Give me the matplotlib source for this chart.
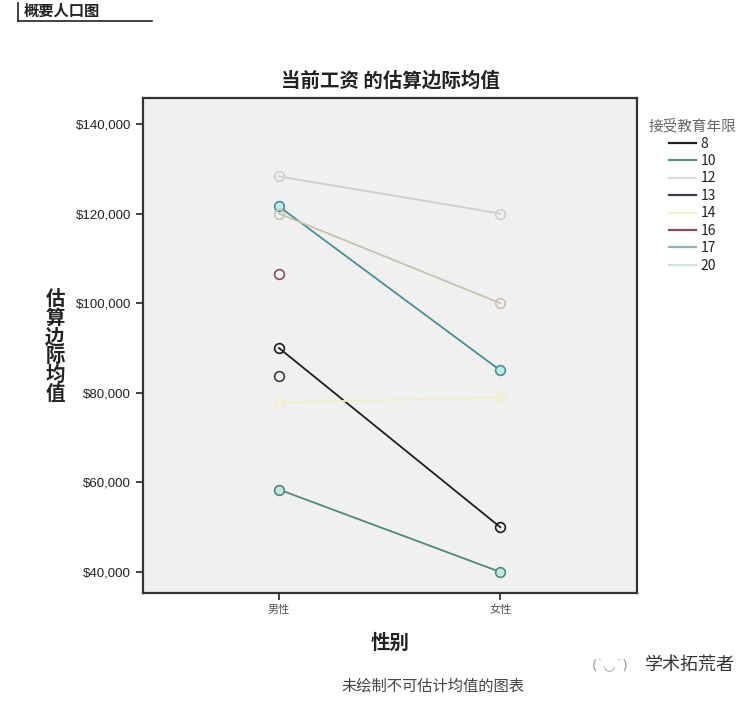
import numpy as np
import matplotlib
matplotlib.use('Agg')
import matplotlib.pyplot as plt
from matplotlib.lines import Line2D
from matplotlib.ticker import FuncFormatter

plt.rcParams['font.family'] = ['Noto Sans CJK SC', 'DejaVu Sans']

# data
genders = ['男性', '女性']
years = ['8', '10', '12', '13', '14', '16', '17', '20']
male = [90000, 58400, 128300, 83700, 77800, 106600, 121600, 120000]
female = [50000, 40000, 120000, np.nan, 79000, np.nan, 85000, 100000]
yticks = [40000, 60000, 80000, 100000, 120000, 140000]

line_colors = ['#1e1e22', '#4d8a78', '#cfcfcf', '#3e3e4a', '#f3efc4', '#8a4d5c', '#4a8e94', '#c9c1b2']
face_colors = ['none', '#bfe6e0', 'none', 'none', 'none', 'none', '#bfeaea', 'none']
legend_colors = ['#1e1e22', '#5d8f80', '#dcdcdc', '#3e3e4a', '#f3efd4', '#8a4d5c', '#8fb4b8', '#d8e2e2']

fig = plt.figure(figsize=(7.52, 7.04), dpi=100)
ax = fig.add_axes([143/752, 1-593/704, (637-143)/752, (593-98)/704])
ax.set_facecolor('#f0f0f0')

x = np.arange(len(genders))
for i, yr in enumerate(years):
	vals = np.array([male[i], female[i]], dtype=float)
	ax.plot(x, vals, color=line_colors[i], lw=1.3, zorder=2)
	ax.plot(x, vals, 'o', ms=7, mfc=face_colors[i], mec=line_colors[i], mew=1.2, zorder=3)

ax.set_xlim(-0.614, 1.618)
ax.set_ylim(35300, 145800)
ax.set_xticks(x)
ax.set_xticklabels(genders, fontsize=8, color='#555555')
ax.set_yticks(yticks)
ax.yaxis.set_major_formatter(FuncFormatter(lambda v, p: '${:,.0f}'.format(v)))
for lab in ax.get_yticklabels():
	lab.set_fontfamily(['Liberation Sans', 'DejaVu Sans'])
	lab.set_fontsize(9.5)
	lab.set_color('#222222')
ax.tick_params(axis='both', direction='out', length=5, width=1.2, color='#222222')
for s in ax.spines.values():
	s.set_linewidth(1.6)
	s.set_color('#333333')

ax.set_title('当前工资 的估算边际均值', fontsize=14, fontweight='bold', color='#222222', pad=8)

# legend
handles = [Line2D([0], [0], color=c, lw=1.6) for c in legend_colors]
leg = fig.legend(handles, years, loc='upper left', bbox_to_anchor=(636/752, 1-106/704),
	frameon=False, title='接受教育年限', fontsize=10, title_fontsize=10.5,
	handlelength=2.0, handletextpad=0.3, labelspacing=0.25)
leg.get_title().set_color('#666666')
for t in leg.get_texts():
	t.set_color('#222222')

# axis labels and notes
fig.text(55/752, 1-347/704, '估\n算\n边\n际\n均\n值', fontsize=14, fontweight='bold',
	ha='center', va='center', linespacing=1.0, color='#222222')
fig.text(390/752, 1-643/704, '性别', fontsize=14, fontweight='bold', ha='center', va='center', color='#222222')
fig.text(433/752, 1-686/704, '未绘制不可估计均值的图表', fontsize=11, ha='center', va='center', color='#444444')
fig.text(690/752, 1-665/704, '学术拓荒者', fontsize=13, ha='center', va='center', color='#333333')
fig.text(610/752, 1-665/704, '(˙◡˙)', fontsize=10, ha='center', va='center', color='#999999',
	family=['DejaVu Sans'])

# header at top-left
fig.text(24/752, 1-11/704, '概要人口图', fontsize=11, fontweight='bold', ha='left', va='center', color='#222222')
fig.add_artist(Line2D([18/752, 152/752], [1-21/704, 1-21/704], color='#222222', lw=1.2))
fig.add_artist(Line2D([18/752, 18/752], [1-21/704, 1-3/704], color='#222222', lw=1.2))

fig.savefig('out.png', dpi=100, facecolor='white')
